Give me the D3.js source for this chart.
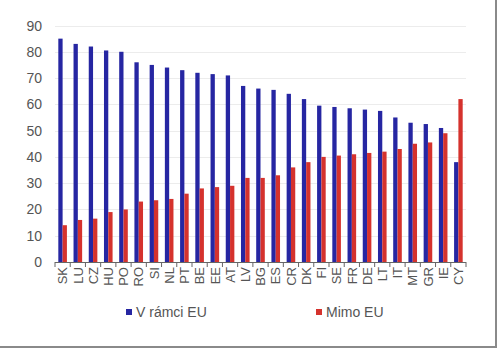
<html lang="cs">
<head>
<meta charset="utf-8">
<title>V rámci EU / Mimo EU</title>
<style>
  body { margin: 0; background: white; font-family: "Liberation Sans", Arial, sans-serif; }
  .grid line { stroke: #ececec; stroke-width: 1px; }
  .axis text { fill: #555; }
  .axis path, .axis line { stroke: #666; }
</style>
</head>
<body>
<div id="chart"></div>
<script src="https://d3js.org/d3.v7.min.js"></script>
<script>
var countries = ["SK","LU","CZ","HU","PO","RO","SI","NL","PT","BE","EE","AT","LV","BG","ES","CR","DK","FI","SE","FR","DE","LT","IT","MT","GR","IE","CY"];
var withinEU = [85, 83, 82, 80.5, 80, 76, 75, 74, 73, 72, 71.5, 71, 67, 66, 65.5, 64, 62, 59.5, 59, 58.5, 58, 57.5, 55, 53, 52.5, 51, 38];
var outsideEU = [14, 16, 16.5, 19, 20, 23, 23.5, 24, 26, 28, 28.5, 29, 32, 32, 33, 36, 38, 40, 40.5, 41, 41.5, 42, 43, 45, 45.5, 49, 62];
var seriesNames = ["V rámci EU", "Mimo EU"];
var colors = ["#2626a2", "#d5322d"];
var yTicks = [0, 10, 20, 30, 40, 50, 60, 70, 80, 90];

var width = 500, height = 348;
var plotLeft = 55, plotRight = 466, plotTop = 25.5, plotBottom = 262;

var svg = d3.select("#chart").append("svg")
  .attr("width", width).attr("height", height);

// frame (right and bottom edge only)
svg.append("path")
  .attr("d", "M496,0 V347 H0")
  .attr("fill", "none").attr("stroke", "#8a8a8a").attr("stroke-width", 2);

var x = d3.scaleBand().domain(countries).range([plotLeft, plotRight]).paddingInner(0).paddingOuter(0);
var x1 = d3.scaleBand().domain([0, 1]).range([0, x.bandwidth()]).paddingInner(0).paddingOuter(0.77);
var y = d3.scaleLinear().domain([0, 90]).range([plotBottom, plotTop]);

// gridlines
svg.append("g").attr("class", "grid")
  .selectAll("line").data(yTicks.slice(1)).enter().append("line")
  .attr("x1", plotLeft).attr("x2", plotRight)
  .attr("y1", function(d){ return Math.round(y(d)) + 0.5; })
  .attr("y2", function(d){ return Math.round(y(d)) + 0.5; });

// y labels
svg.append("g").attr("class", "axis")
  .selectAll("text").data(yTicks).enter().append("text")
  .attr("x", 42).attr("y", function(d){ return y(d); })
  .attr("dy", "0.36em").attr("text-anchor", "end")
  .style("font-size", "14px")
  .text(function(d){ return d; });

// bars
var groups = svg.append("g").selectAll("g").data(countries).enter().append("g")
  .attr("transform", function(d){ return "translate(" + x(d) + ",0)"; });

groups.append("rect")
  .attr("x", x1(0)).attr("width", x1.bandwidth())
  .attr("y", function(d, i){ return y(withinEU[i]); })
  .attr("height", function(d, i){ return y(0) - y(withinEU[i]); })
  .attr("fill", colors[0]);

groups.append("rect")
  .attr("x", x1(1)).attr("width", x1.bandwidth())
  .attr("y", function(d, i){ return y(outsideEU[i]); })
  .attr("height", function(d, i){ return y(0) - y(outsideEU[i]); })
  .attr("fill", colors[1]);

// x axis
var xAxis = svg.append("g").attr("class", "axis");
xAxis.append("line")
  .attr("x1", plotLeft).attr("x2", plotRight)
  .attr("y1", plotBottom + 0.5).attr("y2", plotBottom + 0.5);
xAxis.selectAll("line.tick").data(countries.concat(["end"])).enter().append("line")
  .attr("class", "tick")
  .attr("x1", function(d, i){ return plotLeft + i * x.step(); })
  .attr("x2", function(d, i){ return plotLeft + i * x.step(); })
  .attr("y1", plotBottom).attr("y2", plotBottom + 5);
xAxis.selectAll("text").data(countries).enter().append("text")
  .attr("transform", function(d){ return "translate(" + (x(d) + x.bandwidth() / 2) + "," + (plotBottom + 5) + ") rotate(-90)"; })
  .attr("text-anchor", "end").attr("dy", "0.36em")
  .style("font-size", "13px")
  .text(function(d){ return d; });

// legend
var legendX = [126, 316];
var legend = svg.append("g").selectAll("g").data(seriesNames).enter().append("g")
  .attr("transform", function(d, i){ return "translate(" + legendX[i] + ",312)"; });
legend.append("rect").attr("x", 0).attr("y", -3).attr("width", 6).attr("height", 6)
  .attr("fill", function(d, i){ return colors[i]; });
legend.append("text").attr("x", 10).attr("dy", "0.36em")
  .style("font-size", "14px").attr("fill", "#555")
  .text(function(d){ return d; });
</script>
</body>
</html>
